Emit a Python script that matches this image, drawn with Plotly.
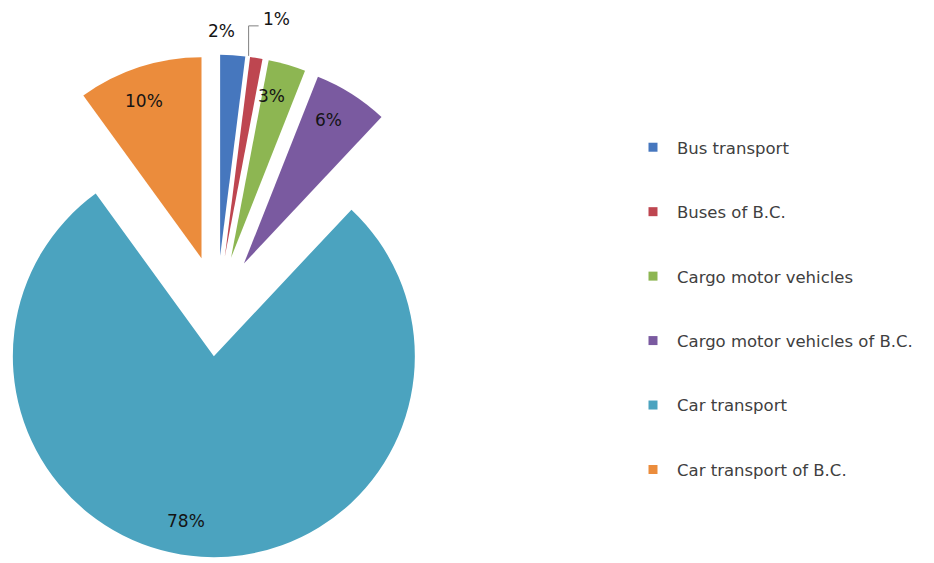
import numpy as np
import plotly.graph_objects as go

# Shares of road transport, percent
categories = [
    "Bus transport",
    "Buses of B.C.",
    "Cargo motor vehicles",
    "Cargo motor vehicles of B.C.",
    "Car transport",
    "Car transport of B.C.",
]
shares = [2, 1, 3, 6, 78, 10]
colors = ["#4677BE", "#BE4650", "#8DB652", "#7A5AA0", "#4BA3BF", "#EB8C3C"]

W, H = 934, 563
CX, CY = 217, 306      # centre of the unexploded pie, px
R = 201                # slice radius, px
PULL = 0.25            # explosion, fraction of the radius
LABEL_FONT = dict(family="DejaVu Sans", size=17, color="#141414")

total = float(sum(shares))
starts = np.concatenate([[0.0], np.cumsum(shares)[:-1]]) / total * 360.0
mids = starts + np.array(shares) / total * 180.0


def px_to_paper(x, y):
    return x / W, 1.0 - y / H


fig = go.Figure()
annotations = []
shapes = []

for name, v, col, a0, am in zip(categories, shares, colors, starts, mids):
    t = np.radians(am)
    # each slice is its own pie whose centre is pushed out along the bisector
    ax = CX + PULL * R * np.sin(t)
    ay = CY - PULL * R * np.cos(t)
    x0, x1 = (ax - R) / W, (ax + R) / W
    y0, y1 = 1.0 - (ay + R) / H, 1.0 - (ay - R) / H
    fig.add_trace(go.Pie(
        values=[v, total - v],
        labels=[name, name + " (rest)"],
        marker=dict(colors=[col, "rgba(0,0,0,0)"], line=dict(width=0)),
        sort=False,
        direction="clockwise",
        rotation=float(a0),
        textinfo="none",
        hovertemplate="%{label}: %{value}%<extra></extra>",
        showlegend=False,
        domain=dict(x=[max(0.0, x0), min(1.0, x1)], y=[max(0.0, y0), min(1.0, y1)]),
    ))

    if v >= 3:
        # inside label, slightly off the bisector like a best-fit placement
        k = 0.83
        tl = t + np.radians(6 if v > 50 else -2)
        lx, ly = ax + k * R * np.sin(tl), ay - k * R * np.cos(tl)
        px, py = px_to_paper(lx, ly)
        annotations.append(dict(x=px, y=py, xref="paper", yref="paper", text=f"{v}%",
                                showarrow=False, font=LABEL_FONT,
                                xanchor="center", yanchor="middle"))
    elif v == 2:
        k = 1.12
        lx, ly = ax + k * R * np.sin(t), ay - k * R * np.cos(t)
        px, py = px_to_paper(lx + 3, ly)
        annotations.append(dict(x=px, y=py, xref="paper", yref="paper", text=f"{v}%",
                                showarrow=False, font=LABEL_FONT,
                                xanchor="right", yanchor="middle"))
    else:
        # outside label with an elbow leader line
        tx, ty = ax + (R + 2) * np.sin(t), ay - (R + 2) * np.cos(t)
        ty_top = ty - 30
        p = [px_to_paper(tx - 8, ty), px_to_paper(tx - 8, ty_top), px_to_paper(tx + 2, ty_top)]
        shapes.append(dict(type="path", xref="paper", yref="paper",
                           path=f"M {p[0][0]},{p[0][1]} L {p[1][0]},{p[1][1]} L {p[2][0]},{p[2][1]}",
                           line=dict(color="#808080", width=1)))
        lx, ly = px_to_paper(tx + 4, ty_top - 7)
        annotations.append(dict(x=lx, y=ly, xref="paper", yref="paper", text=f"{v}%",
                                showarrow=False, font=LABEL_FONT,
                                xanchor="left", yanchor="middle"))

# legend entries
for i, (name, col) in enumerate(zip(categories, colors)):
    fig.add_trace(go.Scatter(
        x=[None], y=[None], mode="markers", name=name, legendgroup=f"g{i}",
        marker=dict(symbol="square", size=9, color=col),
        hoverinfo="skip",
    ))

fig.update_layout(
    width=W, height=H,
    margin=dict(l=0, r=0, t=0, b=0),
    paper_bgcolor="white", plot_bgcolor="white",
    xaxis=dict(visible=False), yaxis=dict(visible=False),
    annotations=annotations,
    shapes=shapes,
    legend=dict(
        x=629 / W, y=1 - 130 / H, xanchor="left", yanchor="top",
        font=dict(family="DejaVu Sans", size=16.5, color="#404040"),
        itemwidth=38, tracegroupgap=40, bgcolor="rgba(0,0,0,0)",
    ),
)

fig.write_html("out.html")
